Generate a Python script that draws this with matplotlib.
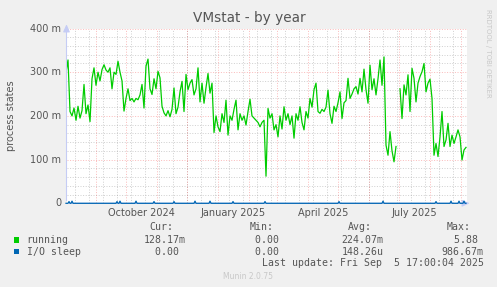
import numpy as np
import matplotlib
matplotlib.use("Agg")
import matplotlib.pyplot as plt
import matplotlib.dates as mdates
from matplotlib.patches import Rectangle
from datetime import datetime, timedelta

# ---------------- data ----------------
running_start = datetime(2024, 8, 1, 17, 0)   # first sample
running_step_days = 2
# running processes, in milli-units (m)
running_m = [
    300, 328, 210, 200, 218, 190, 222, 195, 212, 272,
    205, 225, 187, 285, 310, 270, 300, 280, 306, 317,
    305, 300, 310, 262, 300, 295, 325, 300, 280, 211,
    240, 262, 235, 240, 232, 240, 237, 248, 272, 218,
    314, 330, 262, 249, 285, 262, 302, 287, 222, 207,
    200, 212, 198, 215, 264, 205, 220, 255, 279, 210,
    295, 260, 275, 283, 248, 262, 310, 232, 275, 229,
    265, 297, 252, 275, 162, 200, 175, 164, 205, 185,
    236, 156, 200, 190, 215, 236, 168, 205, 190, 200,
    179, 210, 238, 200, 195, 190, 185, 175, 185, 190,
    62, 217, 195, 205, 168, 180, 152, 200, 170, 221,
    190, 205, 180, 200, 149, 205, 190, 221, 185, 168,
    210, 195, 240, 220, 260, 275, 210, 206, 215, 210,
    220, 259, 205, 183, 222, 210, 230, 255, 194, 230,
    235, 286, 240, 250, 262, 267, 250, 286, 255, 307,
    260, 229, 316, 260, 285, 248, 285, 328, 270, 335,
    133, 110, 164, 120, 95, 130, np.nan, 262, 194, 271,
    248, 294, 210, 309, 286, 232, 275, 290, 301, 320,
    255, 275, 284, 240, 110, 137, 107, 152, 210, 130,
    145, 183, 130, 156, 137, 152, 168, 152, 99, 122,
    128,
]

# I/O sleep: zero everywhere except small blips (milli-units)
io_days_total = 401
io_spike_dates = ["2024-08-04", "2024-08-07", "2024-09-21", "2024-09-24",
                  "2024-10-10", "2024-10-28", "2024-11-17", "2024-12-08",
                  "2024-12-23", "2025-01-15", "2025-02-16", "2025-05-01",
                  "2025-06-14", "2025-08-06", "2025-08-21", "2025-08-29",
                  "2025-09-03"]
io_spike_m = [4, 5, 4, 5, 5, 4, 4, 5, 5, 4, 4, 4, 5, 4, 5, 5, 5]

xtick_months = ["2024-10-01", "2025-01-01", "2025-04-01", "2025-07-01"]
xtick_labels = ["October 2024", "January 2025", "April 2025", "July 2025"]
ytick_vals = [0, 100, 200, 300, 400]
ytick_labels = ["0", "100 m", "200 m", "300 m", "400 m"]

legend_names = ["running", "I/O sleep"]
legend_colors = ["#00CC00", "#0066B3"]
legend_cur = ["128.17m", "  0.00 "]
legend_min = ["  0.00 ", "  0.00 "]
legend_avg = ["224.07m", "148.26u"]
legend_max = ["  5.88 ", "986.67m"]

# ---------------- figure ----------------
W, H = 497, 287
fig = plt.figure(figsize=(W / 100, H / 100), dpi=100, facecolor="#F0F0F0")

def fx(x):
    return x / W

def fy(y):
    return 1 - y / H

left_px, right_px, top_px, bot_px = 66.5, 466.5, 28.5, 203.3
ax = fig.add_axes([fx(left_px), fy(bot_px), (right_px - left_px) / W, (bot_px - top_px) / H])
ax.set_facecolor("white")

origin = datetime(2024, 8, 1)
x0 = mdates.date2num(origin + timedelta(days=1.2))
x1 = mdates.date2num(origin + timedelta(days=401.2))
ax.set_xlim(x0, x1)
ax.set_ylim(0, 400)

for s in ax.spines.values():
    s.set_visible(False)
ax.set_xticks([])
ax.set_yticks([])

# grid
gray = (0.55, 0.55, 0.55, 0.4)
red = (0.95, 0.2, 0.2, 0.32)
dots = (0, (1, 1.6))
for v in range(20, 400, 20):
    if v % 100:
        ax.axhline(v, color=gray, lw=0.72, ls=dots, zorder=1)
d = datetime(2024, 8, 11)
while d < origin + timedelta(days=402):
    ax.axvline(mdates.date2num(d), color=gray, lw=0.72, ls=dots, zorder=1)
    d += timedelta(days=14)
for v in range(100, 401, 100):
    ax.axhline(v, color=red, lw=0.72, ls=dots, zorder=1.5)
for y in (2024, 2025):
    for m in range(1, 13):
        dd = datetime(y, m, 1)
        xv = mdates.date2num(dd)
        if x0 < xv < x1:
            ax.axvline(xv, color=red, lw=0.72, ls=dots, zorder=1.5)

# data
run_dates = [running_start + timedelta(days=running_step_days * i) for i in range(len(running_m))]
ax.plot(mdates.date2num(run_dates), np.array(running_m, dtype=float),
        color=legend_colors[0], lw=0.9, zorder=3)

io_dates = [origin + timedelta(days=i, hours=17) for i in range(io_days_total)]
io_vals = np.zeros(io_days_total)
for ds, v in zip(io_spike_dates, io_spike_m):
    idx = (datetime.strptime(ds, "%Y-%m-%d") - origin).days
    io_vals[idx] = v
ax.plot(mdates.date2num(io_dates), io_vals, color=legend_colors[1], lw=0.9, zorder=4, clip_on=False)

# axes arrows
axis_col = "#C5CCF5"
ax.annotate("", xy=(0, 1.04), xytext=(0, 0), xycoords="axes fraction",
            arrowprops=dict(arrowstyle="-|>,head_length=0.45,head_width=0.2", color=axis_col, lw=0.8),
            annotation_clip=False, zorder=2)
ax.annotate("", xy=(1.015, 0), xytext=(0, 0), xycoords="axes fraction",
            arrowprops=dict(arrowstyle="-|>,head_length=0.45,head_width=0.2", color=axis_col, lw=0.8),
            annotation_clip=False, zorder=2)

# tick labels
tc = "#555555"
for v, lab in zip(ytick_vals, ytick_labels):
    y_px = bot_px - (bot_px - top_px) * v / 400
    fig.text(fx(61), fy(y_px), lab, ha="right", va="center", fontsize=7, color=tc)
for ds, lab in zip(xtick_months, xtick_labels):
    dd = datetime.strptime(ds, "%Y-%m-%d") + timedelta(days=15)
    xp = left_px + (mdates.date2num(dd) - x0) / (x1 - x0) * (right_px - left_px)
    fig.text(fx(xp), fy(212.5), lab, ha="center", va="center", fontsize=7, color=tc)

fig.text(fx(249), fy(18), "VMstat - by year", ha="center", va="center", fontsize=9.8, color=tc)
fig.text(fx(11), fy(116), "process states", ha="center", va="center", rotation=90, fontsize=7, color=tc)
fig.text(fx(488), fy(53), "RRDTOOL / TOBI OETIKER", ha="center", va="center", rotation=270,
         fontsize=5, color="#C8C8C8")

# legend
mono = dict(family="DejaVu Sans Mono", fontsize=7.1, color=tc, va="center", ha="left")
hdr_x = [149.3, 249.3, 348.3, 446.7]
for xh, t in zip(hdr_x, ["Cur:", "Min:", "Avg:", "Max:"]):
    fig.text(fx(xh), fy(227.5), t, **mono)
col_x = [143.3, 242.6, 341.6, 441.6]
rows_y = [240.2, 251.8]
for i, name in enumerate(legend_names):
    yy = rows_y[i]
    fig.add_artist(Rectangle((fx(14), fy(yy + 2.6)), 5.3 / W, 5.3 / H,
                             transform=fig.transFigure, facecolor=legend_colors[i], edgecolor="none"))
    fig.text(fx(26.7), fy(yy), name, **mono)
    for xc, val in zip(col_x, [legend_cur[i], legend_min[i], legend_avg[i], legend_max[i]]):
        fig.text(fx(xc), fy(yy), val, **mono)
fig.text(fx(261.7), fy(263.5), "Last update: Fri Sep  5 17:00:04 2025", **mono)
fig.text(fx(248.3), fy(276.5), "Munin 2.0.75", ha="center", va="center", fontsize=5.5, color="#C8C8C8")

fig.savefig("out.png", dpi=100, facecolor=fig.get_facecolor())
